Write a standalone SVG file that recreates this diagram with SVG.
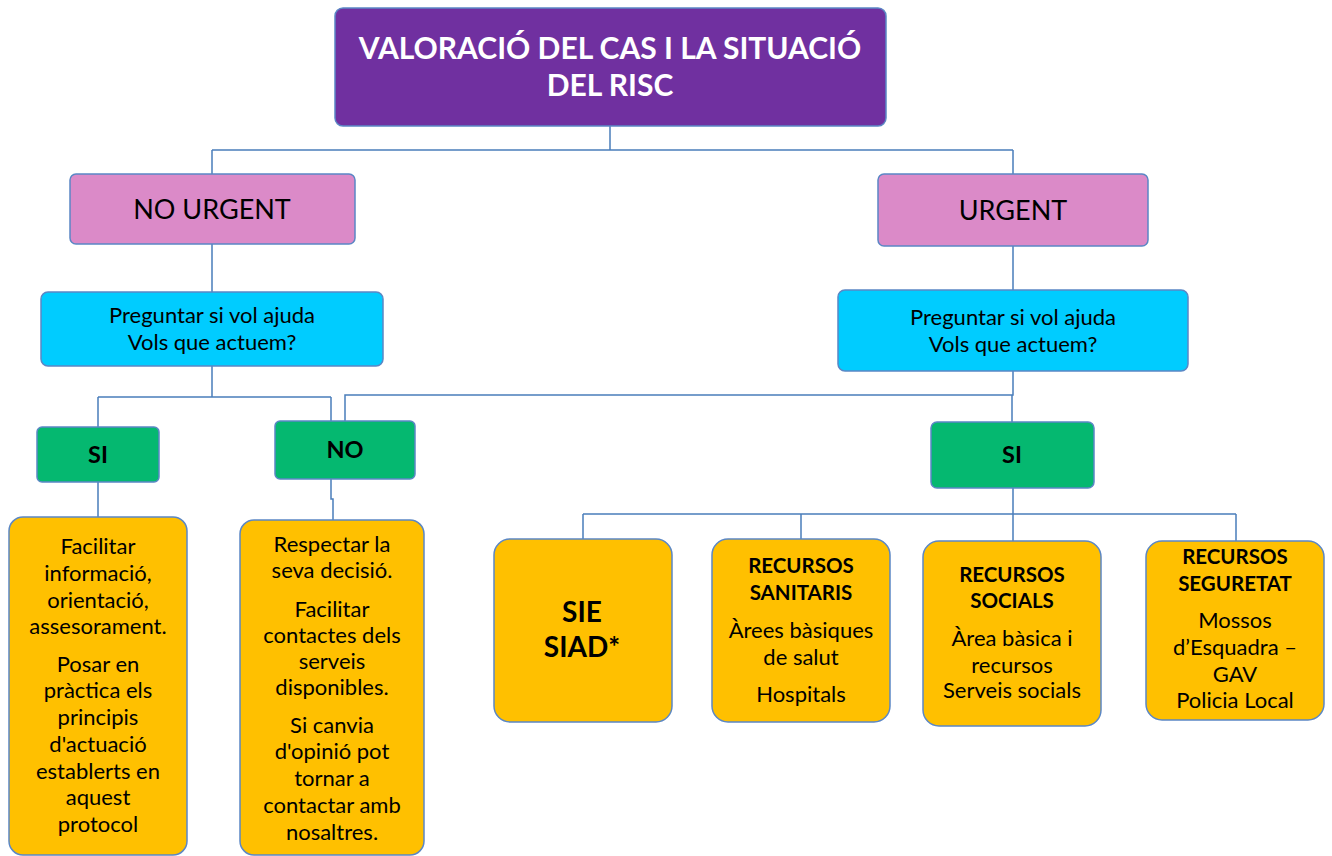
<svg xmlns="http://www.w3.org/2000/svg" width="1332" height="856" viewBox="0 0 1332 856">
<style>
.box{stroke:#5B87C5;stroke-width:1.5}
.purple{fill:#7030A0}
.pink{fill:#DB8AC8}
.cyan{fill:#00CCFF}
.green{fill:#05B870}
.orange{fill:#FFC000}
text{font-family:Lato,"Noto Sans",sans-serif;text-anchor:middle;fill:#000}
.title{fill:#fff;font-weight:bold;font-size:30px}
.lvl{font-size:27px}
.q{font-size:22px}
.yn{font-weight:bold;font-size:23.5px}
.t{font-size:22px}
.b{font-weight:bold;font-size:20.5px}
.big{font-weight:bold;font-size:28px}
.conn{fill:none;stroke:#4A7EBB;stroke-width:1.5}
</style>
<rect width="1332" height="856" fill="#fff"/>
<g id="connectors" class="conn">
<path d="M610 126 V150 M212 150 H1013 M212 150 V174 M1013 150 V174"/>
<path d="M212 244 V292 M1013 246 V290"/>
<path d="M212 366 V397 M98 397 H331 M98 397 V427 M331 397 V421"/>
<path d="M1013 371 V395 H345 V421 M1012 395 V422"/>
<path d="M98 482 V517 M331 479 V499 H333 V520"/>
<path d="M1013 488 V514 M583 514 H1236 M583 514 V539 M801 514 V539 M1013 514 V541 M1236 514 V541"/>
</g>
<g id="n-title"><rect class="box purple" x="335" y="8" width="551" height="118" rx="8"/>
<text class="title" x="610" y="59">VALORACIÓ DEL CAS I LA SITUACIÓ</text>
<text class="title" x="610" y="96">DEL RISC</text></g>
<g id="n-nourgent"><rect class="box pink" x="70" y="174" width="285" height="70" rx="6"/>
<text class="lvl" x="212" y="219">NO URGENT</text></g>
<g id="n-urgent"><rect class="box pink" x="878" y="174" width="270" height="72" rx="6"/>
<text class="lvl" x="1013" y="220">URGENT</text></g>
<g id="n-q-left"><rect class="box cyan" x="41" y="292" width="342" height="74" rx="7"/>
<text class="q" x="212" y="323">Preguntar si vol ajuda</text>
<text class="q" x="212" y="350">Vols que actuem?</text></g>
<g id="n-q-right"><rect class="box cyan" x="838" y="290" width="350" height="81" rx="7"/>
<text class="q" x="1013" y="325">Preguntar si vol ajuda</text>
<text class="q" x="1013" y="352">Vols que actuem?</text></g>
<g id="n-si-left"><rect class="box green" x="37" y="427" width="122" height="55" rx="5"/>
<text class="yn" x="98" y="463">SI</text></g>
<g id="n-no"><rect class="box green" x="275" y="421" width="140" height="58" rx="5"/>
<text class="yn" x="345" y="458">NO</text></g>
<g id="n-si-right"><rect class="box green" x="931" y="422" width="163" height="66" rx="6"/>
<text class="yn" x="1012" y="463">SI</text></g>
<g id="n-facilitar"><rect class="box orange" x="9" y="517" width="178" height="338" rx="14"/>
<text class="t" x="98" y="554">Facilitar</text>
<text class="t" x="98" y="581">informació,</text>
<text class="t" x="98" y="608">orientació,</text>
<text class="t" x="98" y="634">assesorament.</text>
<text class="t" x="98" y="672">Posar en</text>
<text class="t" x="98" y="698">pràctica els</text>
<text class="t" x="98" y="725">principis</text>
<text class="t" x="98" y="752">d'actuació</text>
<text class="t" x="98" y="779">establerts en</text>
<text class="t" x="98" y="805">aquest</text>
<text class="t" x="98" y="832">protocol</text></g>
<g id="n-respectar"><rect class="box orange" x="240" y="520" width="184" height="335" rx="14"/>
<text class="t" x="332" y="552">Respectar la</text>
<text class="t" x="332" y="578">seva decisió.</text>
<text class="t" x="332" y="617">Facilitar</text>
<text class="t" x="332" y="643">contactes dels</text>
<text class="t" x="332" y="669">serveis</text>
<text class="t" x="332" y="695">disponibles.</text>
<text class="t" x="332" y="733">Si canvia</text>
<text class="t" x="332" y="759">d'opinió pot</text>
<text class="t" x="332" y="786">tornar a</text>
<text class="t" x="332" y="813">contactar amb</text>
<text class="t" x="332" y="840">nosaltres.</text></g>
<g id="n-sie"><rect class="box orange" x="494" y="539" width="178" height="183" rx="16"/>
<text class="big" x="582" y="622">SIE</text>
<text class="big" x="582" y="657">SIAD*</text></g>
<g id="n-sanitaris"><rect class="box orange" x="712" y="539" width="178" height="183" rx="16"/>
<text class="b" x="801" y="573">RECURSOS</text>
<text class="b" x="801" y="600">SANITARIS</text>
<text class="t" x="801" y="638">Àrees bàsiques</text>
<text class="t" x="801" y="665">de salut</text>
<text class="t" x="801" y="702">Hospitals</text></g>
<g id="n-socials"><rect class="box orange" x="923" y="541" width="178" height="185" rx="16"/>
<text class="b" x="1012" y="582">RECURSOS</text>
<text class="b" x="1012" y="608">SOCIALS</text>
<text class="t" x="1012" y="646">Àrea bàsica i</text>
<text class="t" x="1012" y="673">recursos</text>
<text class="t" x="1012" y="698">Serveis socials</text></g>
<g id="n-seguretat"><rect class="box orange" x="1146" y="541" width="178" height="179" rx="16"/>
<text class="b" x="1235" y="564">RECURSOS</text>
<text class="b" x="1235" y="591">SEGURETAT</text>
<text class="t" x="1235" y="628">Mossos</text>
<text class="t" x="1235" y="655">d’Esquadra –</text>
<text class="t" x="1235" y="682">GAV</text>
<text class="t" x="1235" y="708">Policia Local</text></g>
</svg>
